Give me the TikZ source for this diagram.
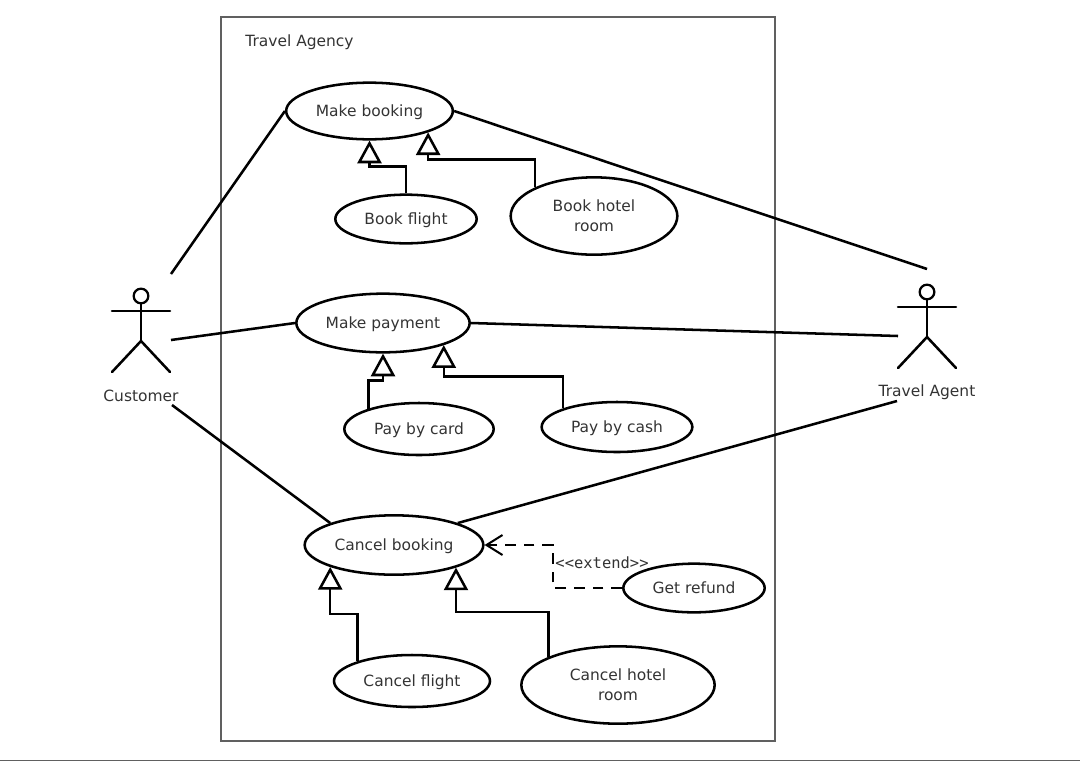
\documentclass[tikz,border=0pt]{standalone}
\usepackage{fontspec}
\setmainfont{DejaVu Sans}
\setmonofont{DejaVu Sans Mono}
\usetikzlibrary{shapes.geometric}
\usetikzlibrary{arrows.meta}
\definecolor{inkText}{HTML}{333333}
\definecolor{frameGray}{HTML}{606060}
\tikzset{
    useCase/.style={
        ,   ellipse
        ,   draw=black
        ,   line width=1.9pt
        ,   inner sep=0pt
        ,   align=center
        ,   text=inkText
        ,   font={\fontsize{11.6pt}{14.8pt}\selectfont}
        ,   minimum width=#1
    },
    oneLine/.style={
        ,   text height=10.6pt
        ,   text depth=2.6pt
    },
    plainText/.style={
        ,   text=inkText
        ,   inner sep=0pt
        ,   font={\fontsize{11.6pt}{14pt}\selectfont}
    },
    assoc/.style={
        ,   line width=1.9pt
    },
    actorLine/.style={
        ,   line width=1.9pt
        ,   line cap=round
    },
    genLine/.style={
        ,   line width=1.9pt
        ,   -{Triangle[open,length=17pt,width=18pt,line width=1.9pt,fill=white]}
    },
    extLine/.style={
        ,   line width=1.9pt
        ,   dash pattern=on 8pt off 6pt
        ,   -{Straight Barb[length=12pt,width=15pt,line width=1.5pt]}
    },
}
\begin{document}
\begin{tikzpicture}[x=0.75pt,y=-0.75pt]
	\useasboundingbox (0,0) rectangle (1080,761);
	\draw[frameGray, line width=1.1pt] (221,17) rectangle (775,741);
	\draw[frameGray, line width=1.1pt] (0,760.5) -- (1080,760.5);
	\node[plainText] (title) at (299.5,42.5) {Travel Agency};

	% actors
	\foreach \n/\x/\y/\t in {CU/141/296/Customer,TA/927/292/Travel Agent}{
	\node[circle, draw, line width=1.7pt, minimum size=11pt, inner sep=0pt] (\n) at (\x,\y) {};
	\coordinate (\n H) at (\x,\y+45);
	\draw[actorLine] (\n) -- (\n H);
	\draw[actorLine] (\x-29,\y+15) -- (\x+29,\y+15);
	\draw[actorLine] (\x-29,\y+76) -- (\n H) -- (\x+29,\y+76);
	\node[plainText] (\n T) at (\x,\y+100) {\t};
	}

	\node[useCase=125pt, minimum height=42.5pt, oneLine] (MB) at (369.5,111) {Make booking};
	\node[useCase=106pt, minimum height=36.5pt, oneLine] (BF) at (406,219) {Book flight};
	\node[useCase=125pt, minimum height=58pt] (BH) at (594,216) {Book hotel\\room};

	\node[useCase=130pt, minimum height=44pt, oneLine] (MP) at (383,323) {Make payment};
	\node[useCase=112pt, minimum height=39pt, oneLine] (PC) at (419,429) {Pay by card};
	\node[useCase=113pt, minimum height=37.5pt, oneLine] (PK) at (617,427) {Pay by cash};

	\node[useCase=134pt, minimum height=44.5pt, oneLine] (CB) at (394,545) {Cancel booking};
	\node[useCase=106pt, minimum height=36.5pt, oneLine] (GR) at (694,588) {Get refund};
	\node[useCase=117pt, minimum height=39pt, oneLine] (CF) at (412,681) {Cancel flight};
	\node[useCase=145pt, minimum height=58pt] (CH) at (618,685) {Cancel hotel\\room};

	% free ends at the actors
	\coordinate (CU1) at (171,274);
	\coordinate (CU2) at (171,340);
	\coordinate (CU3) at (172,405);
	\coordinate (TA1) at (927,269);
	\coordinate (TA2) at (898,336);
	\coordinate (TA3) at (897,401);

	\draw[assoc] (CU1) -- (MB.west);
	\draw[assoc] (CU2) -- (MP.west);
	\draw[assoc] (CU3) -- (CB.161);
	\draw[assoc] (TA1) -- (MB.east);
	\draw[assoc] (TA2) -- (MP.east);
	\draw[assoc] (TA3) -- (CB.19);

	% generalisations
	\draw[genLine] (BF.north) -- ++(0,-27) -| (MB.south);
	\draw[genLine] (BH.154) -- ++(0,-28) -| (MB.-20.5);
	\draw[genLine] (PC.158) -- ++(0,-28) -| (MP.south);
	\draw[genLine] (PK.161) -- ++(0,-32) -| (MP.-20);
	\draw[genLine] (CF.160) -- ++(0,-47) -| (CB.199);
	\draw[genLine] (CH.158) -- ++(0,-45) -| (CB.-20.5);

	% extend
	\coordinate (E1) at (553,588);
	\coordinate (E2) at (553,545);
	\draw[extLine] (GR.west) -- (E1) -- (E2) -- (CB.east);
	\node[plainText, font={\ttfamily\fontsize{11.6pt}{14pt}\selectfont}] (extLabel) at (602,562.5) {<{}<extend>{}>};
\end{tikzpicture}
\end{document}
